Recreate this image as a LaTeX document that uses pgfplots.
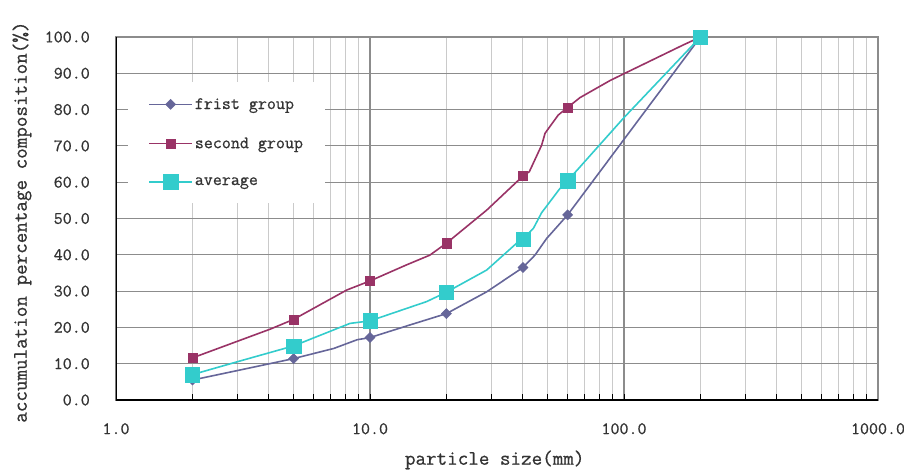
\documentclass[border=0pt]{standalone}
\usepackage{fontspec}
\newfontfamily\mono{Latin Modern Mono}[FakeBold=0.7]
\usepackage{pgfplots}
\pgfplotsset{compat=1.18}
\definecolor{cfirst}{HTML}{666699}
\definecolor{csecond}{HTML}{993366}
\definecolor{cavg}{HTML}{33CCCC}
\definecolor{gmaj}{HTML}{8C8C8C}
\definecolor{gmin}{HTML}{CACACA}
\pgfplotsset{
  lgd/.style n args={3}{legend image code/.code={
    \draw[#1,line width=1.6pt] (0pt,0pt) -- (43pt,0pt);
    \draw[#1,fill=#1,#2,only marks] plot coordinates {(21.5pt,0pt)};}},
}

\begin{document}
\begin{tikzpicture}
\begin{axis}[
  scale only axis, width=762pt, height=363pt,
  xmode=log, log basis x=10,
  xmin=1, xmax=1000, ymin=0, ymax=100,
  xtick={1,10,100,1000}, xticklabels={1.0,10.0,100.0,1000.0},
  minor xtick={2,3,4,5,6,7,8,9,20,30,40,50,60,70,80,90,200,300,400,500,600,700,800,900},
  ytick={0,10,...,100},
  yticklabels={0.0,10.0,20.0,30.0,40.0,50.0,60.0,70.0,80.0,90.0,100.0},
  xmajorgrids, xminorgrids, ymajorgrids,
  major grid style={gmaj, line width=1.1pt},
  minor grid style={gmin, line width=1.1pt},
  tick align=inside, xtick pos=left,
  major tick length=6pt, minor tick length=6pt,
  xtick style={black, line width=1pt},
  ytick style={draw=none},
  axis line style={gmaj, line width=1.2pt},
  tick label style={font=\mono\fontsize{17.5}{19}\selectfont, text=black!80},
  xticklabel style={inner sep=0pt, anchor=north, yshift=-23pt},
  yticklabel style={inner sep=0pt, anchor=east, xshift=-26pt},
  label style={font=\mono\fontsize{20.5}{22}\selectfont, text=black!80},
  xlabel={particle size(mm)},
  ylabel={accumulation percentage composition(\%)},
  xlabel style={at={(axis description cs:0.497,-0.165)}, anchor=center},
  ylabel style={at={(axis description cs:-0.1234,0.49)}, anchor=center},
  legend style={at={(axis description cs:0.0158,0.876)}, anchor=north west,
    draw=none, fill=white, font=\mono\fontsize{17.5}{19}\selectfont, text=black!80,
    inner xsep=20pt, inner ysep=14pt, row sep=23pt, legend cell align=left},
]
% first group
\addplot[forget plot, cfirst, line width=1.6pt, line join=round] coordinates {
  (2,5.5) (3.0,8.1) (5,11.4) (7.2,14.2) (8.9,16.6) (10,17.2) (14.4,20.7)
  (20,23.8) (28.8,29.8) (40,36.5) (44.6,39.9) (49.6,44.5) (60,51.0) (200,100)};
\addplot[only marks, cfirst, mark=square*, mark size=3.6pt, mark options={rotate=45},
  lgd={cfirst}{mark=square*,mark size=3.6pt,mark options={rotate=45}}{}] coordinates {
  (2,5.5) (5,11.4) (10,17.2) (20,23.8) (40,36.5) (60,51.0) (200,100)};
\addlegendentry{frist group}
% second group
\addplot[forget plot, csecond, line width=1.6pt, line join=round] coordinates {
  (2,11.6) (4.04,19.5) (5,22.2) (8.1,30.3) (10,32.8) (13.9,37.2) (17.2,39.9)
  (20,43.2) (28.8,52.3) (40,61.7) (42.4,62.9) (47.4,70.2) (48.9,73.5)
  (55.1,78.5) (60,80.6) (67.1,83.3) (88.1,88.0) (99.4,89.8) (171,97.8) (200,100)};
\addplot[only marks, csecond, mark=square*, mark size=4.6pt,
  lgd={csecond}{mark=square*,mark size=4.6pt}{}] coordinates {
  (2,11.6) (5,22.2) (10,32.8) (20,43.2) (40,61.7) (60,80.6) (200,100)};
\addlegendentry{second group}
% average
\addplot[forget plot, cavg, line width=1.6pt, line join=round] coordinates {
  (2,7.0) (3.17,11.0) (5,14.9) (8.34,21.1) (10,21.8) (16.7,27.1) (20,29.7)
  (28.8,35.8) (37.8,43.2) (40,44.3) (44,47.3) (47.4,51.6) (56,58.3) (60,60.4)
  (99.4,77.6) (200,100)};
\addplot[only marks, cavg, mark=square*, mark size=7.2pt,
  lgd={cavg}{mark=square*,mark size=7.2pt}{}] coordinates {
  (2,7.0) (5,14.9) (10,21.8) (20,29.7) (40,44.3) (60,60.4) (200,100)};
\addlegendentry{average}
\draw[black, line width=1.3pt] (rel axis cs:0,1) -- (rel axis cs:0,0) -- (rel axis cs:1,0);
\end{axis}
\pgfresetboundingbox
\path[use as bounding box] (-116pt,-71pt) rectangle (788pt,400pt);
\end{tikzpicture}
\end{document}
